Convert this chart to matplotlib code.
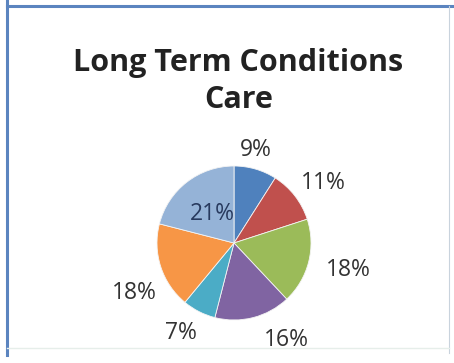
import matplotlib
matplotlib.use("Agg")
import matplotlib.pyplot as plt
from matplotlib.lines import Line2D

# slice shares, clockwise from 12 o'clock
shares = [9, 11, 18, 16, 7, 18, 21]
labels = ["9%", "11%", "18%", "16%", "7%", "18%", "21%"]
colors = ["#4F81BD", "#C0504D", "#9BBB59", "#8064A2", "#4BACC6", "#F79646", "#95B3D7"]

title = "Long Term Conditions\nCare"

W, H = 454, 363
fig = plt.figure(figsize=(W / 100, H / 100), dpi=100)
fig.patch.set_facecolor("white")

# whole canvas in pixel units, y pointing up
ax = fig.add_axes([0, 0, 1, 1])
ax.set_xlim(0, W)
ax.set_ylim(0, H)
ax.set_aspect("equal")
ax.axis("off")

# chart frame
ax.add_line(Line2D([7, 7], [H, 8], color="#5b84bf", lw=2.2))
ax.add_line(Line2D([7, W], [H - 6, H - 6], color="#5b84bf", lw=2.2))
ax.add_line(Line2D([449, 449], [H - 6, 10], color="#c9d3dd", lw=0.8))
ax.add_line(Line2D([7, 449], [15, 15], color="#e6eeea", lw=1.0))

fig.text(0.525, 0.776, title, ha="center", va="center", fontsize=22,
         fontweight="bold", family="Open Sans", color="#222222", linespacing=1.28)

cx, cy, r = 234, H - 243, 77
wedges, _ = ax.pie(shares, colors=colors, startangle=90, counterclock=False,
                   center=(cx, cy), radius=r, frame=True,
                   wedgeprops=dict(linewidth=0.6, edgecolor="#f4f4f4"))
ax.set_xlim(0, W)
ax.set_ylim(0, H)
ax.axis("off")

# label anchor points (pixels from top-left)
label_pos = [(256, 150), (323, 183), (348, 270), (286, 340), (181, 333), (134, 293), (212, 214)]
for lab, (x, y), i in zip(labels, label_pos, range(len(labels))):
    col = "#283a5e" if i == len(labels) - 1 else "#333333"
    ax.text(x, H - y, lab, ha="center", va="center", fontsize=16.5,
            family="Open Sans", color=col)

fig.savefig("out.png", dpi=100)
